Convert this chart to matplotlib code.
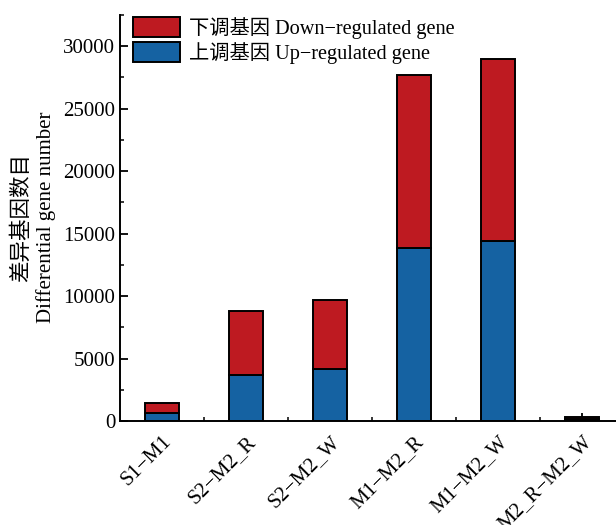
import matplotlib
matplotlib.use("Agg")
import matplotlib.pyplot as plt
from matplotlib.ticker import MultipleLocator, FixedLocator

plt.rcParams['font.family'] = ['Liberation Serif', 'Noto Sans CJK SC', 'DejaVu Sans']
plt.rcParams['axes.unicode_minus'] = True

categories = ['S1\u2212M1', 'S2\u2212M2_R', 'S2\u2212M2_W', 'M1\u2212M2_R', 'M1\u2212M2_W', 'M2_R\u2212M2_W']
up = [640, 3680, 4130, 13840, 14380, 150]
total = [1470, 8770, 9650, 27700, 28990, 330]
down = [t - u for t, u in zip(total, up)]

red = '#BE1A21'
blue = '#1562A2'

fig = plt.figure(figsize=(6.16, 5.25), dpi=100)
ax = fig.add_axes([120/616, (525-421)/525, 504/616, (421-15)/525])

x = list(range(len(categories)))
b1 = ax.bar(x, up, width=0.4, color=blue, edgecolor='black', linewidth=1.4, zorder=2)
b2 = ax.bar(x, down, bottom=up, width=0.4, color=red, edgecolor='black', linewidth=1.4, zorder=2)

ax.set_xlim(-0.5, 5.5)
ax.set_ylim(0, 32500)
ax.yaxis.set_major_locator(MultipleLocator(5000))
ax.yaxis.set_minor_locator(MultipleLocator(2500))
ax.set_xticks(x)
ax.xaxis.set_minor_locator(FixedLocator([i + 0.5 for i in x]))
ax.set_xticklabels(categories, rotation=45, ha='right', rotation_mode='anchor', fontsize=15)
ax.tick_params(axis='both', which='major', direction='in', length=6, width=1.3, labelsize=15)
ax.tick_params(axis='both', which='minor', direction='in', length=3, width=1.1)
ax.tick_params(axis='x', pad=8)
for s in ['top', 'right']:
    ax.spines[s].set_visible(False)
for s in ['left', 'bottom']:
    ax.spines[s].set_linewidth(1.4)

fig.text(22/616, 1 - 217/525, '差异基因数目', rotation=90, ha='center', va='center', fontsize=15.5)
fig.text(46/616, 1 - 217/525, 'Differential gene number', rotation=90, ha='center', va='center', fontsize=15)

leg = ax.legend([b2, b1], ['下调基因 Down\u2212regulated gene', '上调基因 Up\u2212regulated gene'],
                loc='upper left', bbox_to_anchor=(129/616, 1 - 13/525), bbox_transform=fig.transFigure,
                frameon=False, fontsize=14.6, handlelength=2.3, handleheight=1.15,
                handletextpad=0.45, labelspacing=0.15, borderaxespad=0, borderpad=0.2)

fig.savefig('out.png', dpi=100)
